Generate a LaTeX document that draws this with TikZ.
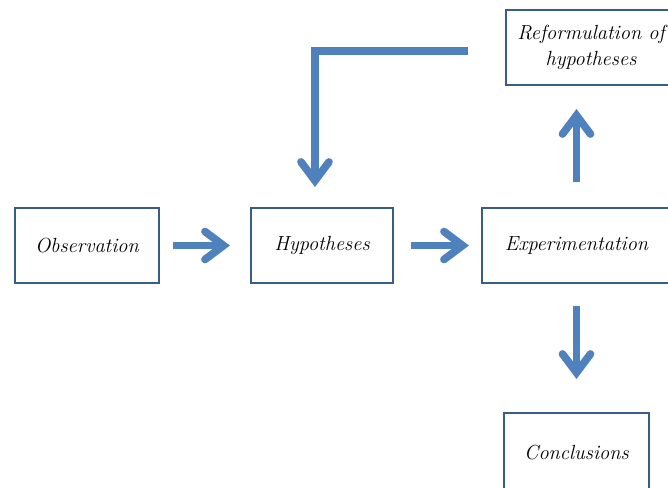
\documentclass[tikz,border=0pt]{standalone}
\usetikzlibrary{arrows.meta}
\definecolor{boxline}{RGB}{56,93,138}
\definecolor{arrowblue}{RGB}{79,129,189}
\begin{document}
\begin{tikzpicture}[x=0.75pt,y=-0.75pt,
    box/.style={shape=rectangle,draw=boxline,line width=1.5pt,fill=white,inner sep=0pt,font=\fontsize{15.3}{19.5}\selectfont\itshape,align=center},
    flow/.style={draw=arrowblue,line width=5.75pt,-{Straight Barb[length=14pt,width=21pt,line cap=round]}}]
        \useasboundingbox (0,0) rectangle (668,487);
        \clip (0,0) rectangle (668,487);
        \node[box,minimum width=108pt,minimum height=56.25pt] (obs) at (87,245.5) {Observation};
        \node[box,minimum width=106.5pt,minimum height=56.25pt] (hyp) at (322,245.5) {Hypotheses};
        \node[box,minimum width=141.75pt,minimum height=56.25pt] (exp) at (576.5,245.5) {Experimentation};
        \node[box,minimum width=127.5pt,minimum height=56.25pt] (reform) at (591,47.5) {Reformulation of\\hypotheses};
        \node[box,minimum width=108.75pt,minimum height=60pt] (conc) at (576.5,453) {Conclusions};
        \coordinate (fbstart) at (468,51);
        \coordinate (fbcorner) at (315,51);
        \draw[flow,shorten <=9.75pt,shorten >=15pt] (obs) -- (hyp);
        \draw[flow,shorten <=12.75pt,shorten >=9pt] (hyp) -- (exp);
        \draw[flow,shorten <=16.5pt,shorten >=24.75pt] (exp) -- (conc);
        \draw[flow,shorten <=18.75pt,shorten >=17.25pt] (exp.north) -- (exp.north |- reform.south);
        \draw[flow,shorten >=15pt] (fbstart) -- (fbcorner) -- (fbcorner |- hyp.north);
\end{tikzpicture}
\end{document}
